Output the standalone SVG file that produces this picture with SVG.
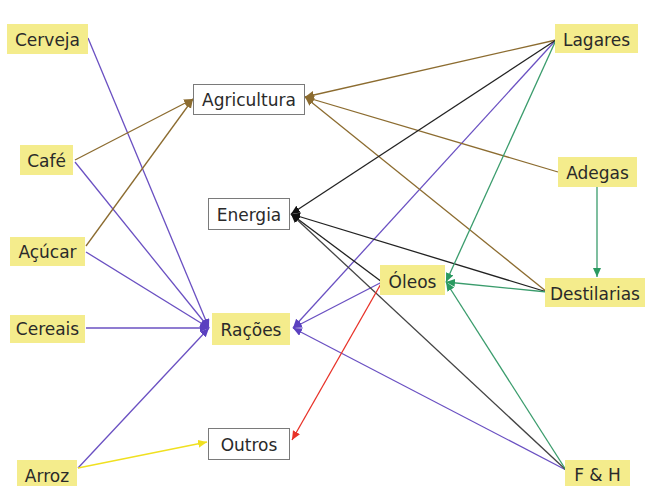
<svg xmlns="http://www.w3.org/2000/svg" width="649" height="486" viewBox="0 0 649 486">
<style>
.y{fill:#f4ec8c;stroke:none}
.w{fill:#fff;stroke:#7a7a7a;stroke-width:1}
text{font-family:"DejaVu Sans",Verdana,sans-serif;font-size:17px;fill:#2a2a2a;text-anchor:middle}
.e line{fill:none;stroke-width:1.3}
.p{stroke:#6a50c2}
.b{stroke:#8c6c30}
.k{stroke:#222}
.g{stroke:#3a9c6c}
.r{stroke:#e83228}
.l{stroke:#f0e020}
</style>
<defs>
<marker id="mp" markerUnits="userSpaceOnUse" markerWidth="10" markerHeight="10" refX="9" refY="4" orient="auto"><path d="M0,0 L9,4 L0,8 z" fill="#5a40c0"/></marker>
<marker id="mb" markerUnits="userSpaceOnUse" markerWidth="10" markerHeight="10" refX="9" refY="4" orient="auto"><path d="M0,0 L9,4 L0,8 z" fill="#8c6c30"/></marker>
<marker id="mk" markerUnits="userSpaceOnUse" markerWidth="10" markerHeight="10" refX="9" refY="4" orient="auto"><path d="M0,0 L9,4 L0,8 z" fill="#111"/></marker>
<marker id="mg" markerUnits="userSpaceOnUse" markerWidth="10" markerHeight="10" refX="9" refY="4" orient="auto"><path d="M0,0 L9,4 L0,8 z" fill="#2a9a60"/></marker>
<marker id="mr" markerUnits="userSpaceOnUse" markerWidth="10" markerHeight="10" refX="9" refY="4" orient="auto"><path d="M0,0 L9,4 L0,8 z" fill="#e83228"/></marker>
<marker id="ml" markerUnits="userSpaceOnUse" markerWidth="10" markerHeight="10" refX="9" refY="4" orient="auto"><path d="M0,0 L9,4 L0,8 z" fill="#f0e020"/></marker>
</defs>
<rect width="649" height="486" fill="#fff"/>
<g id="connectors" class="e">
<line class="p" x1="88" y1="38" x2="209" y2="328" marker-end="url(#mp)"/>
<line class="p" x1="75" y1="162" x2="209" y2="328" marker-end="url(#mp)"/>
<line class="p" x1="86" y1="252" x2="209" y2="328" marker-end="url(#mp)"/>
<line class="p" x1="86" y1="328" x2="209" y2="328" marker-end="url(#mp)"/>
<line class="p" x1="78" y1="468" x2="209" y2="328" marker-end="url(#mp)"/>
<line class="p" x1="556" y1="40" x2="293" y2="328" marker-end="url(#mp)"/>
<line class="p" x1="382" y1="282" x2="293" y2="328" marker-end="url(#mp)"/>
<line class="p" x1="566" y1="470" x2="293" y2="328" marker-end="url(#mp)"/>
<line class="b" x1="75" y1="160" x2="193" y2="99" marker-end="url(#mb)"/>
<line class="b" x1="86" y1="246" x2="193" y2="99" marker-end="url(#mb)"/>
<line class="b" x1="556" y1="40" x2="305" y2="97" marker-end="url(#mb)"/>
<line class="b" x1="558" y1="172" x2="305" y2="97" marker-end="url(#mb)"/>
<line class="b" x1="547" y1="292" x2="305" y2="97" marker-end="url(#mb)"/>
<line class="k" x1="556" y1="40" x2="291" y2="214" marker-end="url(#mk)"/>
<line class="k" x1="547" y1="292" x2="291" y2="214" marker-end="url(#mk)"/>
<line class="k" x1="382" y1="282" x2="291" y2="214" marker-end="url(#mk)"/>
<line class="k" x1="566" y1="470" x2="291" y2="214" stroke-width="1" style="stroke:#444" marker-end="url(#mk)"/>
<line class="g" x1="556" y1="40" x2="446" y2="282" marker-end="url(#mg)"/>
<line class="g" x1="547" y1="292" x2="446" y2="282" marker-end="url(#mg)"/>
<line class="g" x1="566" y1="470" x2="446" y2="282" marker-end="url(#mg)"/>
<line class="g" x1="597" y1="187" x2="597" y2="277" marker-end="url(#mg)"/>
<line class="r" x1="382" y1="282" x2="292" y2="440" marker-end="url(#mr)"/>
<line class="l" x1="78" y1="468" x2="207" y2="442" marker-end="url(#ml)"/>
</g>
<g id="cerveja"><rect class="y" x="7" y="24" width="81" height="30"/><text x="47.5" y="46">Cerveja</text></g>
<g id="cafe"><rect class="y" x="20" y="145" width="53" height="30"/><text x="46.5" y="167">Café</text></g>
<g id="acucar"><rect class="y" x="10" y="237" width="75" height="29"/><text x="47.5" y="258">Açúcar</text></g>
<g id="cereais"><rect class="y" x="10" y="315" width="75" height="28"/><text x="47.5" y="335">Cereais</text></g>
<g id="arroz"><rect class="y" x="17" y="460" width="60" height="30"/><text x="47" y="482">Arroz</text></g>
<g id="agricultura"><rect class="w" x="193.5" y="84.5" width="111" height="30"/><text x="249" y="106">Agricultura</text></g>
<g id="energia"><rect class="w" x="208.5" y="198.5" width="81" height="31"/><text x="249" y="221">Energia</text></g>
<g id="racoes"><rect class="y" x="212" y="313" width="78" height="32" stroke="#b8b070" stroke-width="1"/><text x="251" y="336">Rações</text></g>
<g id="outros"><rect class="w" x="208.5" y="428.5" width="81" height="31"/><text x="249" y="451">Outros</text></g>
<g id="oleos"><rect class="y" x="380" y="265" width="65" height="30"/><text x="412.5" y="288">Óleos</text></g>
<g id="lagares"><rect class="y" x="555" y="24" width="83" height="29"/><text x="596.5" y="46">Lagares</text></g>
<g id="adegas"><rect class="y" x="558" y="157" width="79" height="30"/><text x="597.5" y="179">Adegas</text></g>
<g id="destilarias"><rect class="y" x="545" y="278" width="100" height="29"/><text x="595" y="300">Destilarias</text></g>
<g id="fh"><rect class="y" x="565" y="460" width="65" height="27"/><text x="597.5" y="481">F &amp; H</text></g>
</svg>
